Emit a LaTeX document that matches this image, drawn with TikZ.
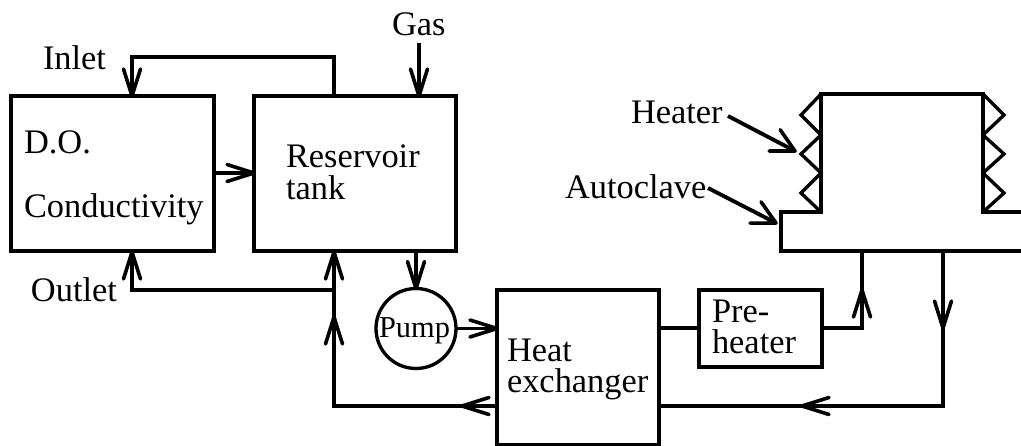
\documentclass[tikz,border=0pt]{standalone}
\usepackage{fontspec}
\setmainfont{Liberation Serif}
\tikzset{
  x=0.75pt,y=-0.75pt,
  wire/.style={line width=2.9pt,line join=miter},
  thinwire/.style={line width=2.5pt,line join=miter},
  atend/.style={sloped,pos=1,allow upside down},
  head/.pic={\draw[line width=2.7pt,line cap=round,line join=round] (-27,-8.5) -- (0,0) -- (-27,8.5);},
  widehead/.pic={\draw[line width=2.7pt,line cap=round,line join=round] (-23,-12) -- (0,0) -- (-23,12);},
  box/.style={draw,wire,inner sep=0pt,outer sep=0pt,anchor=north west},
  lbl/.style={inner sep=0pt,outer sep=0pt,anchor=base west,font=\fontsize{25.8pt}{28pt}\selectfont},
}
\begin{document}
\begin{tikzpicture}
\useasboundingbox (0,0) rectangle (1021,446);
% boxes
\node[box,minimum width=152.25pt,minimum height=116.25pt] (do) at (11,96) {};
\node[box,minimum width=151.5pt,minimum height=116.25pt] (res) at (254,96) {};
\node[box,minimum width=121.5pt,minimum height=116.25pt] (hx) at (497,290) {};
\node[box,thinwire,minimum width=92.25pt,minimum height=57.75pt] (pre) at (699,290) {};
\node[draw,thinwire,circle,inner sep=0pt,outer sep=0pt,minimum size=60pt] (pump) at (416,328.5) {};
% junction points
\coordinate (inA) at (334,96);
\coordinate (inB) at (334,57);
\coordinate (inC) at (132,57);
\coordinate (inD) at (132,96);
\coordinate (gasS) at (419,43);
\coordinate (gasE) at (419,96);
\coordinate (outJ) at (334,290);
\coordinate (outC) at (132,290);
\coordinate (outD) at (132,252);
\coordinate (resIn) at (334,252);
\coordinate (retTip) at (334,317);
\coordinate (retC) at (334,406);
\coordinate (hxL) at (497,406);
\coordinate (hxR) at (659,406);
\coordinate (hxTip) at (802,406);
\coordinate (retR) at (943,406);
\coordinate (downTip) at (943,328);
\coordinate (acOut) at (943,251);
\coordinate (acIn) at (862,251);
\coordinate (upTip) at (862,290);
\coordinate (preC) at (862,328);
\coordinate (hxP) at (659,328);
\coordinate (heatS) at (728,116);
\coordinate (heatE) at (795,151);
\coordinate (autoS) at (708,188);
\coordinate (autoE) at (776,223);
\coordinate (hxTipL) at (462,406);
% connectors
\draw[wire] (inA) -- (inB) -- (inC) -- (inD) pic[atend]{head};
\draw[wire] (gasS) -- (gasE) pic[atend]{head};
\draw[wire] (do.east |- 0,173) -- (res.west |- 0,173) pic[atend]{head};
\draw[wire] (outJ) -- (outC) -- (outD) pic[atend]{head};
\draw[wire] (outJ) -- (resIn) pic[atend]{head};
\draw[thinwire] (hxL) -- (hxTipL) pic[atend]{head} -- (retC) -- (retTip) pic[atend]{head} -- (outJ);
\draw[wire] (416,252) -- (pump.north) pic[atend]{head};
\draw[wire] (pump.east) -- (hx.west |- pump.east) pic[atend]{head};
\draw[thinwire] (hxP) -- (pre.west |- hxP);
\draw[thinwire] (pre.east |- preC) -- (preC) -- (upTip) pic[atend]{head} -- (acIn);
\draw[thinwire] (acOut) -- (downTip) pic[atend]{head} -- (retR) -- (hxTip) pic[atend]{head} -- (hxR);
% autoclave
\draw[wire] (1030,212) -- (983,212) -- (983,94) -- (821,94) -- (821,212) -- (781,212) -- (781,251) -- (1030,251);
% heater coils
\draw[thinwire] (821,94) -- (801,115) -- (821,135) -- (801,154) -- (821,173) -- (801,193) -- (821,212);
\draw[thinwire] (983,94) -- (1004,115) -- (983,135) -- (1004,154) -- (983,173) -- (1004,193) -- (983,212);
\draw[wire] (heatS) -- (heatE) pic[atend]{widehead};
\draw[wire] (autoS) -- (autoE) pic[atend]{widehead};
% labels
\node[lbl] (tInlet) at (43,69) {Inlet};
\node[lbl] (tOutlet) at (31,301) {Outlet};
\node[lbl] (tGas) at (392,35) {Gas};
\node[lbl] (tDO) at (24,153) {D.O.};
\node[lbl] (tCond) at (24,217) {Conductivity};
\node[lbl] (tRes) at (286,167) {Reservoir};
\node[lbl] (tTank) at (286,199) {tank};
\node[lbl,font=\fontsize{22.8pt}{25pt}\selectfont] (tPump) at (379,337) {Pump};
\node[lbl] (tHeat) at (507,361) {Heat};
\node[lbl] (tExch) at (507,392) {exchanger};
\node[lbl] (tPre) at (712,322) {Pre-};
\node[lbl] (tPreH) at (712,353) {heater};
\node[lbl] (tHeater) at (631,123) {Heater};
\node[lbl] (tAuto) at (565,198) {Autoclave};
\end{tikzpicture}
\end{document}
